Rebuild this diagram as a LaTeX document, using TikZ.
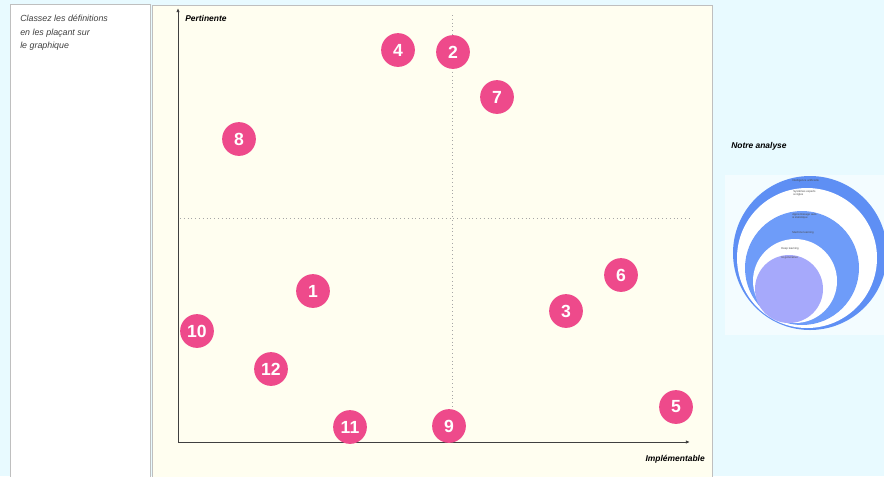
\documentclass[tikz,border=0pt]{standalone}
\usepackage{fontspec}
\setmainfont{Liberation Sans}
\setsansfont{Liberation Sans}
\usepackage{tikz}
\usetikzlibrary{arrows.meta, positioning, calc}
\definecolor{skybg}{HTML}{E8FAFF}
\definecolor{chartbg}{HTML}{FFFEF0}
\definecolor{pinkdot}{HTML}{EE4A8B}
\definecolor{ringblue}{HTML}{5E8FF4}
\definecolor{ringmid}{HTML}{6E9CF9}
\definecolor{ringlav}{HTML}{A6A9FB}

\begin{document}
\begin{tikzpicture}[
    x=0.025cm, y=-0.025cm,
    font=\sffamily,
    panel/.style={draw=black!25, line width=0.5pt},
    pin/.style={circle, fill=pinkdot, text=white, font=\sffamily\bfseries\fontsize{12.5}{12.5}\selectfont,
                minimum size=24pt, inner sep=0pt},
    axlbl/.style={font=\sffamily\bfseries\itshape\fontsize{6}{6.5}\selectfont, inner sep=0pt},
    tiny/.style={font=\sffamily\fontsize{2}{2.4}\selectfont, text=black!70, align=left, inner sep=0pt, anchor=west},
    axis/.style={-{Latex[length=3pt, width=2.5pt]}, draw=black!75, line width=0.6pt},
    guide/.style={draw=black!35, dotted, line width=0.7pt}
  ]
    \useasboundingbox (0,0) rectangle (884,476);
    \fill[skybg] (0,0) rectangle (884,476);

    % panels
    \draw[panel, fill=white] (10,4) rectangle (150,480);
    \draw[panel, fill=chartbg] (152,5) rectangle (712,480);

    \node[font=\sffamily\itshape\fontsize{6.3}{9.5}\selectfont, text=black!75, align=left,
          anchor=north west, inner sep=0pt] (consigne) at (20,15)
      {Classez les définitions\\en les plaçant sur\\le graphique};

    % axes
    \coordinate (orig) at (178,442);
    \coordinate (ytop) at (178,8);
    \coordinate (xend) at (690,442);
    \draw[guide] (452,15) -- (452,442);
    \draw[guide] (180,218) -- (690,218);
    \draw[axis] (orig) -- (ytop);
    \draw[axis] (orig) -- (xend);
    \node[axlbl, anchor=west] (pert) at (185,18) {Pertinente};
    \node[axlbl, anchor=east] (impl) at (705,459) {Implémentable};

    % definitions
    \foreach \n/\x/\y in {1/313/291, 2/453/52, 3/566/311, 4/398/50, 5/676/407, 6/621/275,
                          7/497/97, 8/239/139, 9/449/426, 10/197/331, 11/350/427, 12/271/369}
      \node[pin] (d\n) at (\x,\y) {\n};

    % notre analyse
    \node[axlbl, anchor=west] (analyse) at (731,146) {Notre analyse};
    \fill[white, opacity=0.5] (725,175) rectangle (884,335);
    \fill[ringblue] (810,253) circle (77);
    \fill[white] (807,258) circle (70);
    \fill[ringmid] (802,268) circle (57);
    \fill[white] (795,281) circle (42);
    \fill[ringlav] (789,289) circle (34);

    \node[tiny] (r1) at (792,181) {Intelligence artificielle};
    \node[tiny] (r2) at (793,193) {Systèmes experts\\à règles};
    \node[tiny] (r3) at (792,216) {Apprentissage auto.\\\& statistique};
    \node[tiny] (r4) at (792,233) {Machine learning};
    \node[tiny] (r5) at (781,249) {Deep learning};
    \node[tiny] (r6) at (781,258) {IA générative};
  \end{tikzpicture}
\end{document}
